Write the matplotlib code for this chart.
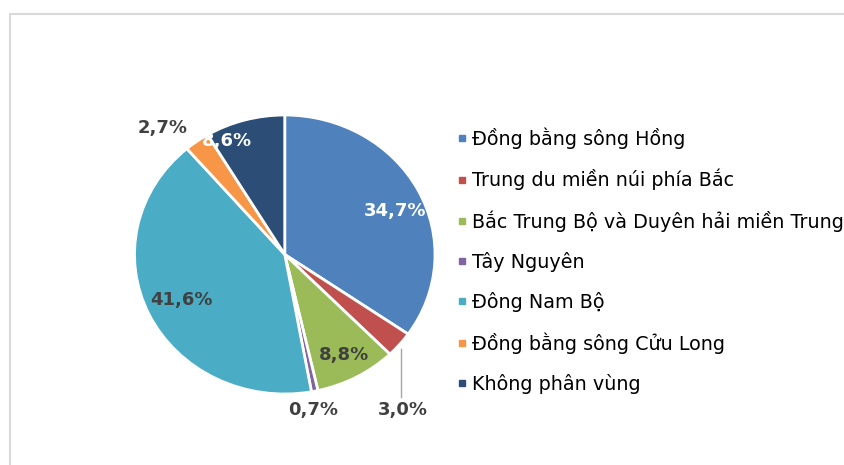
import matplotlib.pyplot as plt
from matplotlib.lines import Line2D
from matplotlib.patches import Rectangle

plt.rcParams['font.family'] = ['DejaVu Sans']

vung = ['Đồng bằng sông Hồng', 'Trung du miền núi phía Bắc',
        'Bắc Trung Bộ và Duyên hải miền Trung', 'Tây Nguyên',
        'Đông Nam Bộ', 'Đồng bằng sông Cửu Long', 'Không phân vùng']
ty_le = [34.7, 3.0, 8.8, 0.7, 41.6, 2.7, 8.6]
mau = ['#4F81BD', '#C0504D', '#9BBB59', '#8064A2', '#4BACC6', '#F79646', '#2C4D75']

# vi tri nhan (toa do du lieu) va mau chu
vi_tri = [(0.734, 0.312), (0.787, -1.115), (0.394, -0.720), (0.188, -1.115),
          (-0.69, -0.326), (-0.81, 0.907), (-0.384, 0.814)]
mau_chu = ['white', '#404040', '#404040', '#404040', '#404040', '#404040', 'white']

fig = plt.figure(figsize=(8.45, 4.65), dpi=100)
fig.patches.append(Rectangle((10.5 / 845, -0.1), 1.2, 1 - 14.5 / 465 + 0.1,
                             transform=fig.transFigure, fill=False,
                             edgecolor='#D9D9D9', linewidth=1.5))

ax = fig.add_axes([134.5 / 845, 71 / 465, 300.5 / 845, 279 / 465])
wedges, _ = ax.pie(ty_le, colors=mau, startangle=90, counterclock=False,
                   wedgeprops=dict(edgecolor='white', linewidth=2))
ax.set_aspect('auto')
ax.set_xlim(-1, 1)
ax.set_ylim(-1, 1)

for v, (x, y), c in zip(ty_le, vi_tri, mau_chu):
    ax.text(x, y, f'{v:.1f}%'.replace('.', ','), ha='center', va='center',
            fontsize=13, fontweight='bold', color=c, clip_on=False)

# duong dan cho nhan 3,0%
ax.plot([0.774, 0.774], [-0.677, -1.02], color='#A6A6A6', linewidth=1, clip_on=False)

handles = [Line2D([], [], marker='s', linestyle='none', markersize=5,
                  markerfacecolor=c, markeredgecolor=c) for c in mau]
fig.legend(handles, vung, loc='upper left', bbox_to_anchor=(451 / 845, 1 - 119.5 / 465),
           frameon=False, fontsize=13.8, handlelength=0.4, handletextpad=0.3,
           labelspacing=1.05, borderaxespad=0)

fig.savefig('out.png', dpi=100)
